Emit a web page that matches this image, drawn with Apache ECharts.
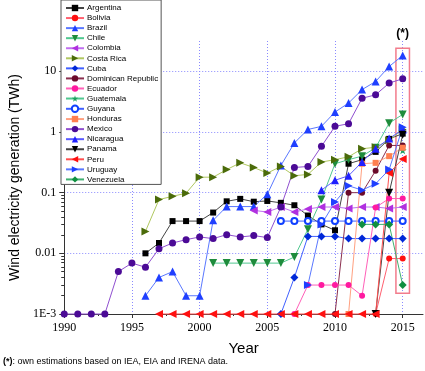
<!DOCTYPE html>
<html>
<head>
<meta charset="utf-8">
<script src="https://cdn.jsdelivr.net/npm/echarts@6/dist/echarts.min.js"></script>
<style>
  html, body { margin: 0; padding: 0; background: #fff; }
  #chart { width: 425px; height: 371px; }
</style>
</head>
<body>
<div id="chart"></div>
<script>
  // 年份 1990 - 2015
  const years = []
  for (let y = 1990; y <= 2015; y++) years.push(y)

  // TWh, null = no point; 0.001 = plotted on the 1E-3 floor
  const argentina = [null, null, null, null, null, null, 0.01, 0.0148, 0.034, 0.034, 0.034, 0.047, 0.072, 0.079, 0.071, 0.073, 0.068, 0.062, 0.042, 0.03, 0.024, 0.3, 0.35, 0.47, 0.77, 0.94]
  const bolivia = [null, null, null, null, null, null, null, null, null, null, null, null, null, null, null, null, null, null, null, null, null, null, null, 0.001, 0.0082, 0.0082]
  const brazil = [null, null, null, null, null, null, 0.002, 0.004, 0.005, 0.002, 0.002, 0.035, 0.059, 0.059, 0.059, 0.094, 0.28, 0.66, 1.1, 1.24, 2.13, 3.0, 5.0, 6.8, 12, 18.3]
  const chile = [null, null, null, null, null, null, null, null, null, null, null, 0.0069, 0.0069, 0.0069, 0.0069, 0.0069, 0.0069, 0.0087, 0.025, 0.077, 0.3, 0.35, 0.4, 0.55, 1.4, 1.95]
  const colombia = [null, null, null, null, null, null, null, null, null, null, null, null, null, null, 0.051, 0.048, 0.058, 0.048, 0.054, 0.058, 0.058, 0.055, 0.058, 0.058, 0.055, 0.058]
  const costaRica = [null, null, null, null, null, null, 0.023, 0.077, 0.087, 0.098, 0.18, 0.18, 0.24, 0.31, 0.26, 0.21, 0.27, 0.19, 0.2, 0.32, 0.35, 0.39, 0.53, 0.56, 0.73, 1.1]
  const cuba = [null, null, null, null, null, null, null, null, null, null, null, null, null, null, null, null, 0.001, 0.004, 0.019, 0.019, 0.019, 0.0175, 0.0175, 0.0175, 0.0175, 0.0175]
  const dominicanRep = [null, null, null, null, null, null, null, null, null, null, null, null, null, null, null, null, null, null, null, null, 0.001, 0.1, 0.1, 0.23, 0.6, 0.6]
  const ecuador = [null, null, null, null, null, null, null, null, null, null, null, null, null, null, null, null, null, 0.001, 0.003, 0.003, 0.003, 0.003, 0.002, 0.057, 0.08, 0.08]
  const guatemala = [null, null, null, null, null, null, null, null, null, null, null, null, null, null, null, null, null, null, null, null, null, null, null, null, null, 0.5]
  const guyana = [null, null, null, null, null, null, null, null, null, null, null, null, null, null, null, null, 0.034, 0.034, 0.034, 0.034, 0.034, 0.034, 0.034, 0.034, 0.034, 0.034]
  const honduras = [null, null, null, null, null, null, null, null, null, null, null, null, null, null, null, null, null, null, null, null, null, 0.001, 0.3, 0.31, 0.4, 0.55]
  const mexico = [0.001, 0.001, 0.001, 0.001, 0.005, 0.0069, 0.0059, 0.0119, 0.0148, 0.0168, 0.0186, 0.0175, 0.0203, 0.0186, 0.0196, 0.0182, 0.058, 0.26, 0.27, 0.58, 1.24, 1.37, 3.6, 4.1, 6.4, 7.55]
  const nicaragua = [null, null, null, null, null, null, null, null, null, null, null, null, null, null, null, null, null, null, null, 0.11, 0.16, 0.19, 0.32, 0.53, 0.78, 1.1]
  const panama = [null, null, null, null, null, null, null, null, null, null, null, null, null, null, null, null, null, null, null, null, null, null, null, 0.001, 0.1, 0.9]
  const peru = [null, null, null, null, null, null, null, 0.001, 0.001, 0.001, 0.001, 0.001, 0.001, 0.001, 0.001, 0.001, 0.001, 0.001, 0.001, 0.001, 0.001, 0.001, 0.001, 0.001, 0.21, 0.36]
  const uruguay = [null, null, null, null, null, null, null, null, null, null, null, null, null, null, null, null, null, null, 0.003, 0.03, 0.07, 0.13, 0.11, 0.14, 0.24, 1.2]
  const venezuela = [null, null, null, null, null, null, null, null, null, null, null, null, null, null, null, null, null, null, null, null, null, null, 0.03, 0.03, 0.03, 0.003]

  // 刻度
  const yTicks = [0.001, 0.01, 0.1, 1, 10]
  const yTickLabels = ['1E-3', '0.01', '0.1', '1', '10']
  const xTicks = [1990, 1995, 2000, 2005, 2010, 2015]

  const star = 'path://M50,0 L61,35 L98,35 L68,57 L79,91 L50,70 L21,91 L32,57 L2,35 L39,35 Z'

  // name, data, marker colour, line colour, symbol, rotate, size
  const seriesDefs = [
    ['Argentina', argentina, '#000000', '#444444', 'rect', 0, 6],
    ['Bolivia', bolivia, '#ff1010', '#ff6070', 'circle', 0, 6],
    ['Brazil', brazil, '#1f3fff', '#5a78ff', 'triangle', 0, 8],
    ['Chile', chile, '#1e8c3c', '#50c890', 'triangle', 180, 8],
    ['Colombia', colombia, '#b030e0', '#c070f0', 'triangle', 90, 8],
    ['Costa Rica', costaRica, '#4b6b0a', '#b0c860', 'triangle', -90, 8],
    ['Cuba', cuba, '#0028d8', '#4060ff', 'diamond', 0, 8],
    ['Dominican Republic', dominicanRep, '#6b0a2a', '#8b3050', 'circle', 0, 6],
    ['Ecuador', ecuador, '#ff1aa0', '#ff60b8', 'circle', 0, 6],
    ['Guatemala', guatemala, '#20a060', '#50c890', star, 0, 8],
    ['Guyana', guyana, '#1040ff', '#4060ff', 'emptyCircle', 0, 6],
    ['Honduras', honduras, '#ff7f50', '#ffa080', 'rect', 0, 6],
    ['Mexico', mexico, '#4b0a96', '#9050d0', 'circle', 0, 7],
    ['Nicaragua', nicaragua, '#2020ff', '#5a5aff', 'triangle', 0, 8],
    ['Panama', panama, '#000000', '#444444', 'triangle', 180, 8],
    ['Peru', peru, '#ff1010', '#ff5050', 'triangle', 90, 8],
    ['Uruguay', uruguay, '#1f3fff', '#5a78ff', 'triangle', -90, 8],
    ['Venezuela', venezuela, '#109040', '#40b070', 'diamond', 0, 8]
  ]

  const chartDom = echarts.init(document.getElementById('chart'))

  const series = seriesDefs.map(([name, values, mColor, lColor, symbol, rot, size]) => ({
    name,
    type: 'line',
    data: years.map((y, i) => [y, values[i]]),
    symbol,
    symbolRotate: rot,
    symbolSize: size,
    showAllSymbol: true,
    connectNulls: false,
    clip: false,
    lineStyle: { color: lColor, width: 1 },
    itemStyle: symbol === 'emptyCircle'
      ? { color: mColor, borderColor: mColor, borderWidth: 2 }
      : { color: mColor, borderColor: mColor, borderWidth: 0 },
    emphasis: { disabled: true }
  }))

  // 2015 估算框
  series[0].markArea = {
    silent: true,
    itemStyle: { color: 'rgba(0,0,0,0)', borderColor: '#f27c8c', borderWidth: 1.5 },
    label: {
      show: true,
      position: 'top',
      distance: 8,
      formatter: '(*)',
      color: '#000',
      fontWeight: 'bold',
      fontSize: 12,
      fontFamily: 'Liberation Sans'
    },
    data: [[{ xAxis: 2014.5, yAxis: 24 }, { xAxis: 2015.5, yAxis: 0.0022 }]]
  }

  const minorY = []
  for (let e = -3; e <= 1; e++) {
    for (let k = 2; k <= 9; k++) {
      const v = k * Math.pow(10, e)
      if (v < 31.6) minorY.push(v)
    }
  }
  const minorX = [1992.5, 1997.5, 2002.5, 2007.5, 2012.5]

  const gridColor = '#8a8aff'
  const axisColor = '#333'

  chartDom.setOption({
    animation: false,
    backgroundColor: '#fff',
    grid: { left: 56, right: 2, top: 41, bottom: 57 },
    legend: {
      orient: 'vertical',
      left: 61,
      top: 0,
      padding: [4, 3, 1, 4],
      itemWidth: 18,
      itemHeight: 8,
      itemGap: 2.06,
      backgroundColor: '#fff',
      borderColor: '#555',
      borderWidth: 1,
      textStyle: { fontSize: 8, fontFamily: 'Liberation Sans', color: '#000', padding: [0, 0, 0, -2] },
      data: seriesDefs.map((d) => d[0])
    },
    xAxis: [
      {
        type: 'value',
        min: 1990,
        max: 2016.5,
        name: 'Year',
        nameLocation: 'middle',
        nameGap: 27,
        nameTextStyle: { fontSize: 15, fontFamily: 'Liberation Sans', color: '#000' },
        axisLine: { show: true, lineStyle: { color: axisColor, width: 1 } },
        axisTick: { show: true, customValues: xTicks, length: 4, inside: false, lineStyle: { color: axisColor } },
        axisLabel: {
          customValues: xTicks,
          margin: 8,
          fontSize: 12,
          fontFamily: 'Liberation Serif',
          color: '#000',
          formatter: (v) => String(v)
        },
        splitLine: { show: true, lineStyle: { color: gridColor, type: [1, 2], width: 1 } }
      },
      {
        type: 'value',
        min: 1990,
        max: 2016.5,
        position: 'bottom',
        axisLine: { show: false },
        axisTick: { show: true, customValues: minorX, length: 2, lineStyle: { color: axisColor } },
        axisLabel: { show: false },
        splitLine: { show: false }
      }
    ],
    yAxis: [
      {
        type: 'log',
        logBase: 10,
        min: 0.001,
        max: 31.62,
        name: 'Wind electricity generation (TWh)',
        nameLocation: 'middle',
        nameGap: 40,
        nameTextStyle: { fontSize: 14, fontFamily: 'Liberation Sans', color: '#000' },
        axisLine: { show: true, lineStyle: { color: axisColor, width: 1 } },
        axisTick: { show: true, customValues: yTicks, length: 5, lineStyle: { color: axisColor } },
        axisLabel: {
          customValues: yTicks,
          margin: 8,
          fontSize: 12,
          fontFamily: 'Liberation Serif',
          color: '#000',
          formatter: (v) => {
            const i = yTicks.findIndex((t) => Math.abs(t - v) / t < 1e-6)
            return i >= 0 ? yTickLabels[i] : ''
          }
        },
        splitLine: { show: true, lineStyle: { color: gridColor, type: [1, 2], width: 1 } }
      },
      {
        type: 'log',
        logBase: 10,
        min: 0.001,
        max: 31.62,
        position: 'left',
        axisLine: { show: false },
        axisTick: { show: true, customValues: minorY, length: 3, lineStyle: { color: axisColor } },
        axisLabel: { show: false },
        splitLine: { show: false }
      }
    ],
    graphic: [
      {
        type: 'text',
        left: 3,
        top: 357,
        style: {
          text: '{b|(*)}: own estimations based on IEA, EIA and IRENA data.',
          fontSize: 9,
          fontFamily: 'Liberation Sans',
          fill: '#000',
          rich: { b: { fontWeight: 'bold', fontSize: 9, fontFamily: 'Liberation Sans' } }
        }
      }
    ],
    series
  })
</script>
</body>
</html>
